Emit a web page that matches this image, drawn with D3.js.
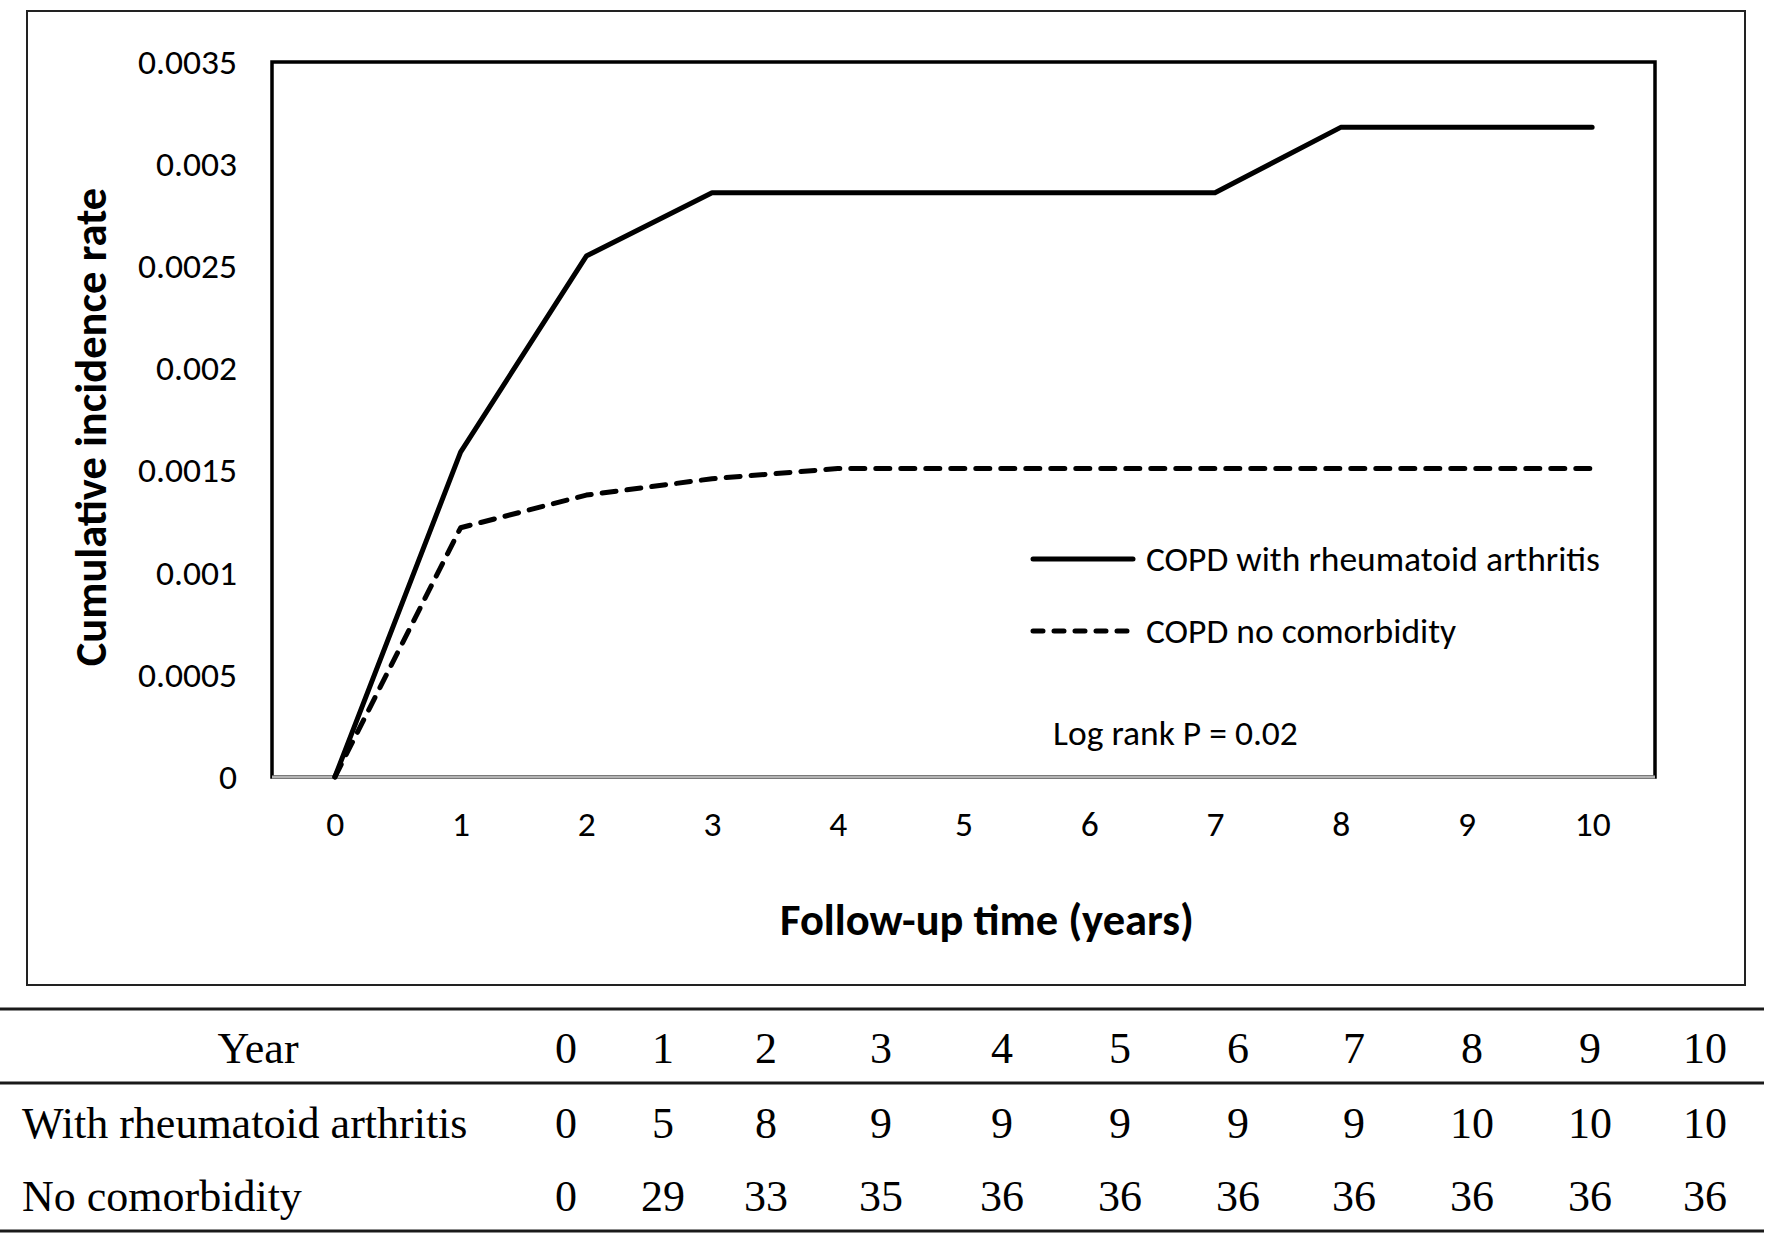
<!DOCTYPE html>
<html>
<head>
<meta charset="utf-8">
<script src="https://cdn.jsdelivr.net/npm/d3@7"></script>
<style>
  body { margin: 0; background: #fff; }
  svg { display: block; }
</style>
</head>
<body>
<script>
const width = 1772;
const height = 1242;

// chart data
const years = [0, 1, 2, 3, 4, 5, 6, 7, 8, 9, 10];
const raRate = [0, 0.00159, 0.00255, 0.00286, 0.00286, 0.00286, 0.00286, 0.00286, 0.00318, 0.00318, 0.00318];
const noComRate = [0, 0.00122, 0.00138, 0.00146, 0.00151, 0.00151, 0.00151, 0.00151, 0.00151, 0.00151, 0.00151];
const yTicks = [0, 0.0005, 0.001, 0.0015, 0.002, 0.0025, 0.003, 0.0035];
const seriesNames = ["COPD with rheumatoid arthritis", "COPD no comorbidity"];

// table under the chart
const tableHeader = "Year";
const rowLabels = ["With rheumatoid arthritis", "No comorbidity"];
const raCounts = [0, 5, 8, 9, 9, 9, 9, 9, 10, 10, 10];
const noComCounts = [0, 29, 33, 35, 36, 36, 36, 36, 36, 36, 36];

const sansFont = "Calibri, Carlito, Lato, sans-serif";
const serifFont = "'Times New Roman', 'Liberation Serif', serif";

const plot = { left: 272, right: 1655, top: 62, bottom: 777 };

const svg = d3.select("body").append("svg")
    .attr("width", width)
    .attr("height", height)
    .style("background", "#fff");

// outer frame round the chart
svg.append("rect")
    .attr("x", 27).attr("y", 11)
    .attr("width", 1745 - 27).attr("height", 985 - 11)
    .attr("fill", "none")
    .attr("stroke", "#222")
    .attr("stroke-width", 2);

const x = d3.scalePoint()
    .domain(years)
    .range([plot.left, plot.right])
    .padding(0.5);

const y = d3.scaleLinear()
    .domain([0, 0.0035])
    .range([plot.bottom, plot.top]);

// plot area border
svg.append("rect")
    .attr("x", plot.left).attr("y", plot.top)
    .attr("width", plot.right - plot.left)
    .attr("height", plot.bottom - plot.top)
    .attr("fill", "none")
    .attr("stroke", "#000")
    .attr("stroke-width", 3.5);

// y axis labels
const yAxis = svg.append("g")
    .attr("transform", `translate(${plot.left},0)`)
    .call(d3.axisLeft(y).tickValues(yTicks).tickSize(0).tickPadding(35)
        .tickFormat(d => String(+d.toFixed(4))));
yAxis.select(".domain").remove();
yAxis.selectAll("text")
    .style("font-family", sansFont)
    .style("font-size", "35.5px")
    .attr("fill", "#000");

// x axis
const xAxis = svg.append("g")
    .attr("transform", `translate(0,${plot.bottom})`)
    .call(d3.axisBottom(x).tickSize(0).tickPadding(34));
xAxis.select(".domain").remove();
xAxis.selectAll("text")
    .style("font-family", sansFont)
    .style("font-size", "35.5px")
    .attr("fill", "#000");

// grey category axis line
svg.append("line")
    .attr("x1", plot.left).attr("x2", plot.right)
    .attr("y1", plot.bottom).attr("y2", plot.bottom)
    .attr("stroke", "#b4b4b4")
    .attr("stroke-width", 3);

// axis titles
svg.append("text")
    .attr("transform", `translate(106,427) rotate(-90)`)
    .attr("text-anchor", "middle")
    .style("font-family", sansFont)
    .style("font-weight", "bold")
    .style("font-size", "44.5px")
    .text("Cumulative incidence rate");

svg.append("text")
    .attr("x", 987).attr("y", 935)
    .attr("text-anchor", "middle")
    .style("font-family", sansFont)
    .style("font-weight", "bold")
    .style("font-size", "44.5px")
    .text("Follow-up time (years)");

// series lines
const line = d3.line()
    .x((d, i) => x(years[i]))
    .y(d => y(d));

const styles = [
    { dash: null, legendDash: null },
    { dash: "14,11", legendDash: "10,11" }
];

[raRate, noComRate].forEach((s, i) => {
    svg.append("path")
        .datum(s)
        .attr("d", line)
        .attr("fill", "none")
        .attr("stroke", "#000")
        .attr("stroke-width", 5)
        .attr("stroke-linecap", "round")
        .attr("stroke-linejoin", "round")
        .attr("stroke-dasharray", styles[i].dash);
});

// legend
const legend = svg.append("g");
seriesNames.forEach((name, i) => {
    const ly = 559 + i * 72;
    legend.append("line")
        .attr("x1", 1033).attr("x2", 1133)
        .attr("y1", ly).attr("y2", ly)
        .attr("stroke", "#000")
        .attr("stroke-width", 5)
        .attr("stroke-linecap", "round")
        .attr("stroke-dasharray", styles[i].legendDash);
    legend.append("text")
        .attr("x", 1146).attr("y", ly)
        .attr("dy", "0.35em")
        .style("font-family", sansFont)
        .style("font-size", "35.5px")
        .text(name);
});

svg.append("text")
    .attr("x", 1053).attr("y", 733)
    .attr("dy", "0.35em")
    .style("font-family", sansFont)
    .style("font-size", "35.5px")
    .text("Log rank P = 0.02");

// number table
const colX = [566, 663, 766, 881, 1002, 1120, 1238, 1354, 1472, 1590, 1705];
const rowBase = [1063, 1138, 1211];
const table = svg.append("g")
    .style("font-family", serifFont)
    .style("font-size", "44px");

[1009, 1083, 1231].forEach(ly => {
    table.append("line")
        .attr("x1", 0).attr("x2", 1764)
        .attr("y1", ly).attr("y2", ly)
        .attr("stroke", "#1a1a1a")
        .attr("stroke-width", 3);
});

table.append("text")
    .attr("x", 258).attr("y", rowBase[0])
    .attr("text-anchor", "middle")
    .text(tableHeader);

rowLabels.forEach((lab, i) => {
    table.append("text")
        .attr("x", 22).attr("y", rowBase[i + 1])
        .text(lab);
});

[years, raCounts, noComCounts].forEach((row, r) => {
    table.selectAll(null)
        .data(row)
        .join("text")
        .attr("x", (d, i) => colX[i])
        .attr("y", rowBase[r])
        .attr("text-anchor", "middle")
        .text(d => d);
});
</script>
</body>
</html>
